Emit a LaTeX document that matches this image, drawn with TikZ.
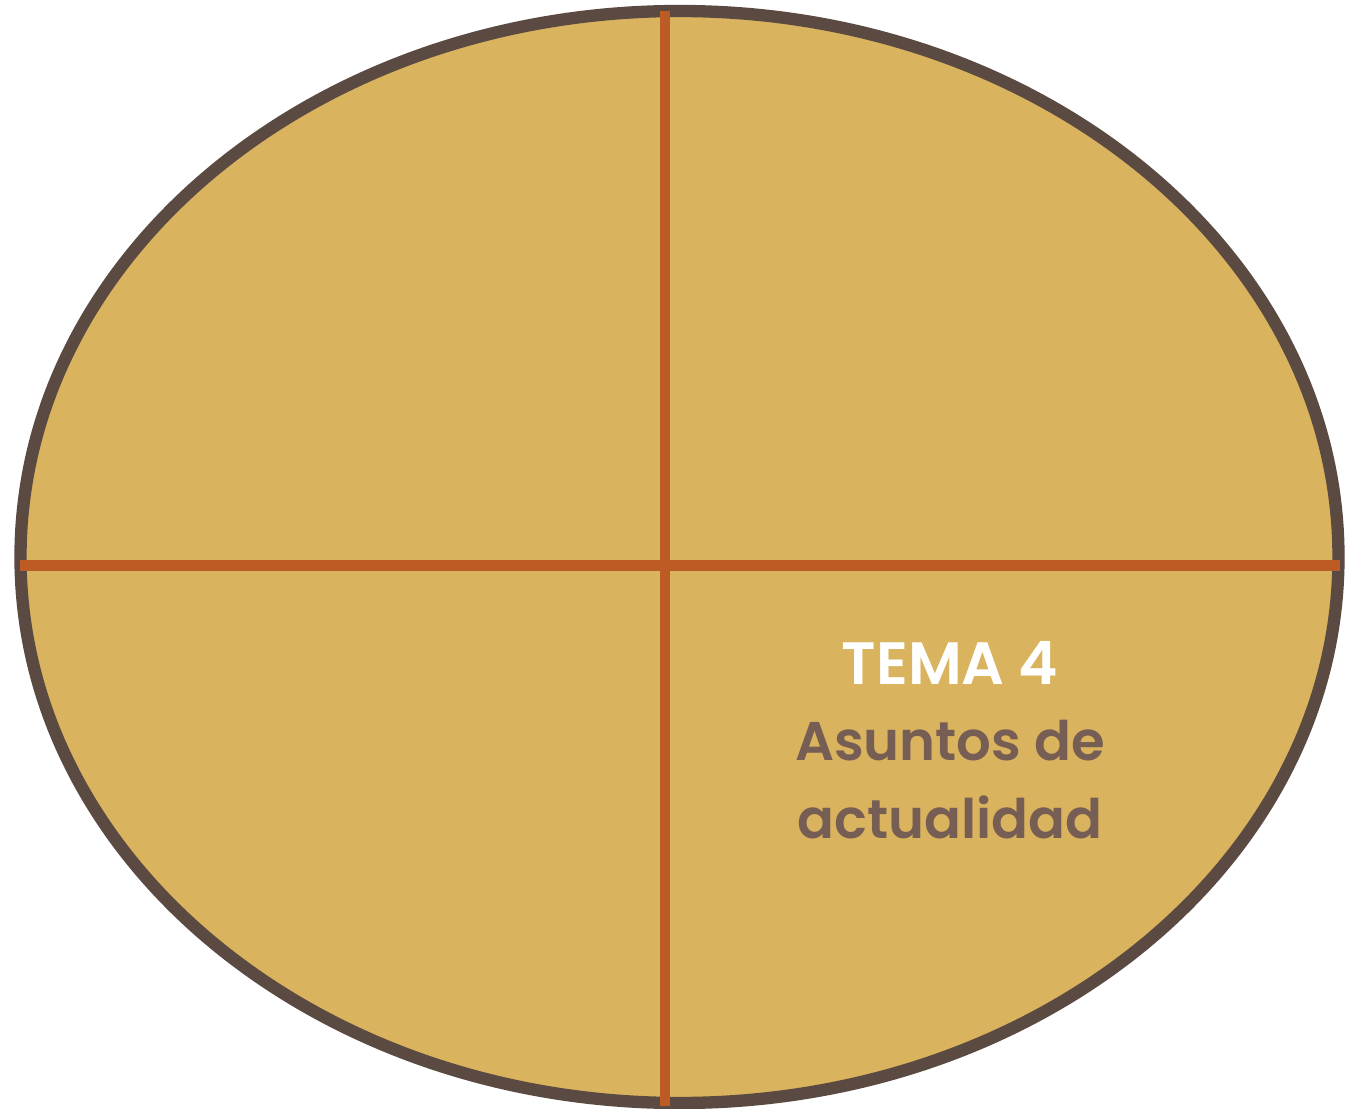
\documentclass[tikz,border=0pt]{standalone}
\usepackage{fontspec}
\newfontfamily\temafont{Poppins}[BoldFont=* SemiBold]
\definecolor{mesa}{HTML}{D9B35E}
\definecolor{borde}{HTML}{5A4A42}
\definecolor{linea}{HTML}{BD5B25}
\definecolor{texto}{HTML}{765E55}

\begin{document}
\begin{tikzpicture}[x=0.01cm,y=-0.01cm,every node/.style={font=\temafont\bfseries\fontsize{17}{22.1}\selectfont,align=center}]
\useasboundingbox (0,0) rectangle (1356,1109);
\filldraw[fill=mesa,draw=borde,line width=3.5pt] (679.5,557) ellipse (659 and 546);
\draw[linea,line width=2.9pt] (20,565.5) -- (1340,565.5);
\draw[linea,line width=2.9pt] (665,11) -- (665,1106);
\node[white] (tema) at (950,663) {TEMA 4};
\node[texto,anchor=north,font=\temafont\bfseries\fontsize{15.5}{22.1}\selectfont] (asunto) at (950,708) {Asuntos de\\actualidad};
\end{tikzpicture}
\end{document}
